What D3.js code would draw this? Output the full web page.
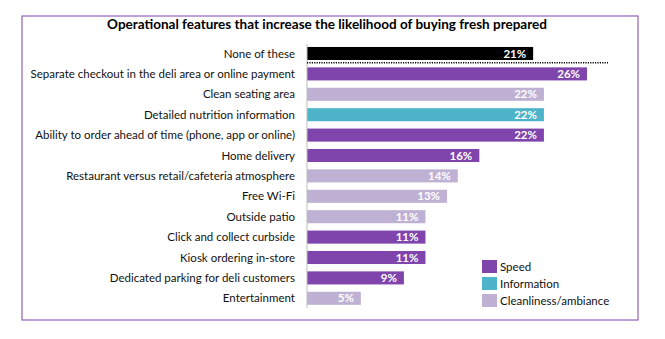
<!DOCTYPE html>
<html>
<head>
<meta charset="utf-8">
<script src="https://cdn.jsdelivr.net/npm/d3@7"></script>
<style>
  body { margin: 0; background: #fff; }
  text { font-family: Lato, "Open Sans", sans-serif; }
</style>
</head>
<body>
<svg id="chart" width="665" height="339"></svg>
<script>
// data
var categories = [
  "None of these",
  "Separate checkout in the deli area or online payment",
  "Clean seating area",
  "Detailed nutrition information",
  "Ability to order ahead of time (phone, app or online)",
  "Home delivery",
  "Restaurant versus retail/cafeteria atmosphere",
  "Free Wi-Fi",
  "Outside patio",
  "Click and collect curbside",
  "Kiosk ordering in-store",
  "Dedicated parking for deli customers",
  "Entertainment"
];
var values = [21, 26, 22, 22, 22, 16, 14, 13, 11, 11, 11, 9, 5];
var groups = ["None", "Speed", "Clean", "Info", "Speed", "Speed", "Clean", "Clean", "Clean", "Speed", "Speed", "Speed", "Clean"];
var legendKeys = ["Speed", "Info", "Clean"];
var legendLabels = ["Speed", "Information", "Cleanliness/ambiance"];

var colorOf = {
  None: "#000000",
  Speed: "#7f45ad",
  Info: "#4db4ca",
  Clean: "#bfb1d4"
};

var svg = d3.select("#chart");

// frame
svg.append("rect")
  .attr("x", 22).attr("y", 16)
  .attr("width", 616).attr("height", 304)
  .attr("fill", "none")
  .attr("stroke", "#9a6fc0")
  .attr("stroke-width", 1.3);

svg.append("text")
  .attr("x", 327).attr("y", 29)
  .attr("text-anchor", "middle")
  .attr("font-size", 13.5)
  .attr("font-weight", "bold")
  .attr("fill", "#000")
  .text("Operational features that increase the likelihood of buying fresh prepared");

var x0 = 307;
var x = d3.scaleLinear().domain([0, 26]).range([x0, 587]);
var y = d3.scaleBand()
  .domain(categories)
  .range([43.3, 308.5])
  .paddingInner(0.36)
  .paddingOuter(0.18);

var g = svg.append("g");

g.selectAll("rect.bar")
  .data(categories)
  .enter().append("rect")
    .attr("class", "bar")
    .attr("x", x0)
    .attr("y", function(d) { return y(d); })
    .attr("width", function(d, i) { return x(values[i]) - x0; })
    .attr("height", y.bandwidth())
    .attr("fill", function(d, i) { return colorOf[groups[i]]; });

// value labels
g.selectAll("text.val")
  .data(categories)
  .enter().append("text")
    .attr("class", "val")
    .attr("x", function(d, i) { return x(values[i]) - 7; })
    .attr("y", function(d) { return y(d) + y.bandwidth() / 2 + 4; })
    .attr("text-anchor", "end")
    .attr("font-size", 11.5)
    .attr("font-weight", "bold")
    .attr("fill", "#fff")
    .text(function(d, i) { return values[i] + "%"; });

// category labels
g.selectAll("text.cat")
  .data(categories)
  .enter().append("text")
    .attr("class", "cat")
    .attr("x", 295)
    .attr("y", function(d) { return y(d) + y.bandwidth() / 2 + 4; })
    .attr("text-anchor", "end")
    .attr("font-size", 11.5)
    .attr("fill", "#111")
    .text(function(d) { return d; });

// axis line
svg.append("line")
  .attr("x1", x0).attr("x2", x0)
  .attr("y1", 44).attr("y2", 308)
  .attr("stroke", "#bdbdbd")
  .attr("stroke-width", 1);

// dotted separator under "None of these"
var sepY = y(categories[0]) + y.bandwidth() + 2.6;
svg.append("line")
  .attr("x1", x0).attr("x2", 608)
  .attr("y1", sepY).attr("y2", sepY)
  .attr("stroke", "#000")
  .attr("stroke-width", 1.5)
  .attr("stroke-dasharray", "1.2,1.2");

// legend
var leg = svg.append("g").attr("transform", "translate(482,260)");
legendKeys.forEach(function(k, i) {
  leg.append("rect")
    .attr("x", 0).attr("y", i * 17)
    .attr("width", 15).attr("height", 13)
    .attr("fill", colorOf[k]);
  leg.append("text")
    .attr("x", 18).attr("y", i * 17 + 10.5)
    .attr("font-size", 11.5)
    .attr("fill", "#111")
    .text(legendLabels[i]);
});
</script>
</body>
</html>
